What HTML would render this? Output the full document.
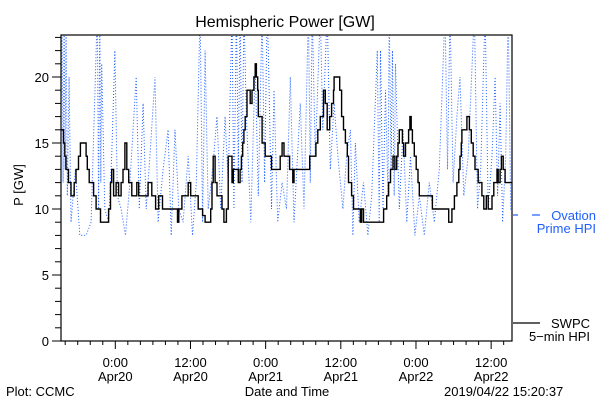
<!DOCTYPE html>
<html><head><meta charset="utf-8"><style>
body{margin:0;background:#fff}
svg{display:block;font-family:"Liberation Sans",sans-serif}
</style></head><body>
<svg id="chart" width="600" height="400" viewBox="0 0 600 400">
<rect width="600" height="400" fill="#fff"/>
<text x="285" y="27" font-size="16" text-anchor="middle">Hemispheric Power [GW]</text>
<text transform="translate(23,185) rotate(-90)" font-size="13" text-anchor="middle">P [GW]</text>
<defs><clipPath id="pc"><rect x="61" y="35" width="451" height="306"/></clipPath></defs>
<g id="blue" clip-path="url(#pc)"></g>
<g id="black" clip-path="url(#pc)"></g>
<rect x="61" y="35" width="451" height="306" fill="none" stroke="#000" stroke-width="1.2"/>
<g id="yax"></g>
<g id="xax"></g>
<g>
<line x1="513" y1="215" x2="518" y2="215" stroke="#1f5fff" stroke-width="1.2"/>
<line x1="532" y1="215" x2="540" y2="215" stroke="#1f5fff" stroke-width="1.2"/>
<text x="596" y="220" font-size="13" fill="#1f5fff" text-anchor="end">Ovation</text>
<text x="596" y="233" font-size="13" fill="#1f5fff" text-anchor="end">Prime HPI</text>
</g>
<g>
<line x1="513" y1="323" x2="540" y2="323" stroke="#000" stroke-width="1.2"/>
<text x="590" y="328" font-size="13" text-anchor="end">SWPC</text>
<text x="590" y="341" font-size="13" text-anchor="end">5−min HPI</text>
</g>
<text x="6" y="396" font-size="13">Plot: CCMC</text>
<text x="287" y="396" font-size="13" text-anchor="middle">Date and Time</text>
<text x="444" y="396" font-size="13">2019/04/22 15:20:37</text>
</svg>
<script>
const yTicks=[0,5,10,15,20];
const xTickHours=[8.67,20.67,32.67,44.67,56.67,68.67];
const xTickTimes=["0:00","12:00","0:00","12:00","0:00","12:00"];
const xTickDates=["Apr20","Apr20","Apr21","Apr21","Apr22","Apr22"];
const swpcT=[0,0.4,0.6,0.8,1.2,1.6,2.1,2.4,2.8,3.1,4.0,4.2,4.5,5.2,5.6,6.3,7.6,7.9,8.1,8.4,8.8,9.2,9.6,9.9,10.2,10.5,10.8,11.3,12.1,12.4,13.3,13.9,14.5,15.1,15.6,16.2,18.6,18.8,19.3,20.3,20.7,21.9,22.6,23.0,23.9,24.1,24.3,24.6,24.9,25.7,26.0,26.4,26.7,27.3,27.5,28.3,28.6,28.8,29.0,29.2,29.4,29.7,30.2,30.5,30.8,31.0,31.2,31.4,31.5,32.1,32.6,33.6,35.0,35.3,35.6,36.5,37.0,37.2,39.5,39.7,40.3,40.7,41.0,41.4,41.9,42.2,42.5,42.9,43.2,43.5,43.6,44.5,44.8,45.1,45.4,45.7,45.9,46.4,46.7,47.8,48.0,48.3,51.5,52.0,52.3,52.6,53.0,53.3,53.6,53.8,54.0,54.5,54.7,55.0,55.5,55.7,55.9,56.1,56.4,56.7,57.0,57.2,59.3,61.9,62.4,62.8,63.2,63.5,63.7,63.9,64.0,64.8,65.2,65.5,65.8,66.1,66.6,67.2,67.5,67.9,68.2,68.8,69.1,69.6,69.8,70.1,70.3,70.6,70.9];
const swpcV=[16,15,14,13,12,11,12,13,14,15,14,13,12,11,10,9,10,12,13,11,12,11,12,13,15,13,12,11,12,11,11,12,11,10,11,10,9,10,11,12,11,10,9.5,9,10,12,14,12,11,10,9,10,14,12,13,12,13,14,15,16,17,19,18,19,20,21,20,19,17,15,14,13,14,15,14,13,12,13,13,14,14,15,16,17,19,18,16,17,18,19,20,19,17,16,15,14,12,11,10,9,10,9,10,11,12,13,14,13,14,15,16,15,14,15,16,17,16,15,14,13,12,11,10,9,10,11,12,13,14,15,16,17,16,15,14,13,12,11,10,11,10,11,12,13,12,13,14,13,12,10];
const ovT=[0,0.16,0.33,0.5,0.65,0.8,1.0,1.3,1.6,2.3,3.0,4.0,4.8,5.8,6.0,6.2,6.35,6.5,7.0,7.6,8.1,8.6,9.0,9.6,10.3,11.0,12.0,12.5,13.1,13.6,14.2,15.0,15.5,16.3,17.1,17.6,18.2,18.8,19.5,20.3,21.0,21.6,22.2,22.6,23.0,23.5,24.2,24.9,25.5,26.2,26.7,27.3,27.6,28.0,28.3,28.6,28.9,29.2,29.6,30.3,31.0,31.5,32.1,32.5,32.9,33.1,33.6,34.0,34.6,35.3,36.0,36.6,37.2,38.2,38.8,39.5,39.8,40.1,40.6,41.4,41.8,42.5,43.0,43.6,44.2,45.0,45.6,46.2,46.6,47.0,47.6,48.3,49.0,49.6,50.5,50.8,51.0,51.4,51.8,52.2,52.4,52.7,52.9,53.2,53.4,54.0,54.6,55.2,55.8,56.5,57.2,58.0,58.8,59.6,60.4,61.3,61.7,62.1,62.6,63.2,63.7,64.3,65.0,66.0,66.5,67.0,67.7,68.2,68.8,69.3,69.7,70.1,70.5,71.0,71.4,71.8,72];
const ovV=[17,25,12,25,13,25,11,20,9,13,8,8,9,25,10,25,12,21,10,9,14,22,11,10,8,12,20,10,18,10,14,20,9,13,16,8,16,10,9,14,8,12,25,9,22,10,13,17,10,17,12,25,10,25,13,25,12,25,17,9,21,11,25,12,25,22,10,19,9,12,10,20,9,18,10,25,12,25,14,25,16,25,13,18,14,10,14,16,8,15,9,12,8,11,22,9,22,10,19,11,25,13,22,11,21,10,16,9,14,8,11,8,12,9,13,25,13,25,12,17,20,11,14,25,10,13,25,10,14,20,11,18,9,14,25,10,10];
const X0=61,X1=512,Y0=341,YT=35,HSPAN=72,VMAX=(341-35)/13.2;
const xs=h=>X0+(h/HSPAN)*(X1-X0);
const ys=v=>Y0-(v/VMAX)*(Y0-YT);
const NS="http://www.w3.org/2000/svg";
function mk(t,a,p){const e=document.createElementNS(NS,t);for(const k in a)e.setAttribute(k,a[k]);p.appendChild(e);return e;}
const yax=document.getElementById('yax');
for(let v=0;v<=23;v++){
 const maj=yTicks.includes(v);
 const t=mk('line',{x1:X0-(maj?9:6),x2:X0,y1:ys(v),y2:ys(v),stroke:'#000','stroke-width':1},yax);
 
 
}
yTicks.forEach(v=>{
 const t=mk('text',{x:X0-12,y:ys(v)+5,'font-size':13,'text-anchor':'end'},yax);
 t.textContent=v;
 
 
});
const xax=document.getElementById('xax');
for(let h=0.67;h<=72;h+=2){
 const maj=xTickHours.some(m=>Math.abs(m-h)<0.1);
 const t=mk('line',{x1:xs(h),x2:xs(h),y1:Y0,y2:Y0+(maj?8:4),stroke:'#000','stroke-width':1},xax);
 
 
}
xTickHours.forEach((h,i)=>{
 const a=mk('text',{x:xs(h),y:367,'font-size':13,'text-anchor':'middle'},xax);
 a.textContent=xTickTimes[i];
 
 
 const b=mk('text',{x:xs(h),y:381,'font-size':13,'text-anchor':'middle'},xax);
 b.textContent=xTickDates[i];
 
 
});
let d='';ovT.forEach((h,i)=>{d+=(i?'L':'M')+xs(h).toFixed(1)+','+ys(ovV[i]).toFixed(1);});
const bp=mk('path',{d:d,fill:'none',stroke:'#1f5fff','stroke-width':1,'stroke-dasharray':'1 2'},document.getElementById('blue'));


let s='';swpcT.forEach((h,i)=>{const x=xs(h).toFixed(1),y=ys(swpcV[i]).toFixed(1);s+=i?('H'+x+'V'+y):('M'+x+','+y);});
s+='H'+xs(72);
const kp=mk('path',{d:s,fill:'none',stroke:'#000','stroke-width':1.4},document.getElementById('black'));


</script>
</body></html>
